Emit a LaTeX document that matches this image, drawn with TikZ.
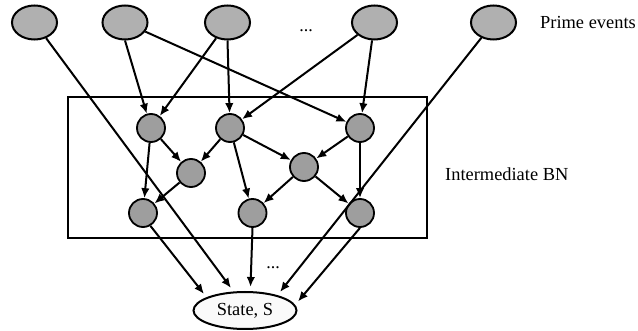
\documentclass[tikz,border=0pt]{standalone}
\usepackage{fontspec}
\setmainfont{Liberation Serif}
\usetikzlibrary{shapes.geometric,arrows.meta}
\definecolor{primefill}{RGB}{176,176,176}
\definecolor{bnfill}{RGB}{158,158,158}
\definecolor{statefill}{RGB}{250,250,250}
\tikzset{
  prime/.style={ellipse,draw,line width=2pt,fill=primefill,minimum width=45pt,minimum height=34pt,inner sep=0pt},
  bn/.style={circle,draw,line width=1.8pt,fill=bnfill,minimum size=28pt,inner sep=0pt},
  statenode/.style={ellipse,draw,line width=2pt,fill=statefill,minimum width=103pt,minimum height=37pt,inner sep=0pt},
  edge/.style={line width=2pt,-{Latex[length=10pt,width=8.5pt]}},
  lbl/.style={inner sep=0pt,anchor=base west,font=\fontsize{18.4}{20}\selectfont},
  dots/.style={inner sep=0pt,anchor=base,font=\fontsize{18}{20}\selectfont}
}
\begin{document}
\begin{tikzpicture}[x=1pt,y=-1pt]
\useasboundingbox (0,0) rectangle (638,331);
% frame of the intermediate BN
\draw[line width=2.2pt] (68,97) rectangle (427,238);
% prime events
\node[prime] (P1) at (34.5,22.5) {};
\node[prime] (P2) at (125,22.5) {};
\node[prime] (P3) at (227.5,22.5) {};
\node[prime] (P4) at (374.5,22.5) {};
\node[prime] (P5) at (493.5,22.5) {};
\node[dots] (d1) at (306,32) {...};
\node[lbl] (pe) at (540,29) {Prime events};
% intermediate BN nodes
\node[bn] (A1) at (151,128) {};
\node[bn] (A2) at (230,128) {};
\node[bn] (A3) at (360,128) {};
\node[bn] (B1) at (191,173) {};
\node[bn] (B2) at (304,167) {};
\node[bn] (C1) at (143,213) {};
\node[bn] (C2) at (252.5,213) {};
\node[bn] (C3) at (360,213) {};
\node[lbl] (ibn) at (445,180.5) {Intermediate BN};
% state
\node[statenode,font=\fontsize{18.4}{20}\selectfont] (S) at (245,310.5) {State, S};
\node[dots] (d2) at (273,269) {...};
\coordinate (s1) at (204,294);
\coordinate (s2) at (231,288);
\coordinate (s3) at (250.5,287);
\coordinate (s4) at (280,292);
\coordinate (s5) at (298,301.5);
% edges from prime events
\draw[edge] (P1) -- (s2);
\draw[edge] (P2.south) -- (A1);
\draw[edge] (P2) -- (A3);
\draw[edge] (P3) -- (A1);
\draw[edge] (P3.south) -- (A2);
\draw[edge] (P4) -- (A2);
\draw[edge] (P4) -- (A3);
\draw[edge] (P5) -- (s4);
% edges inside the BN
\draw[edge] (A1) -- (B1);
\draw[edge] (A1) -- (C1);
\draw[edge] (A2) -- (B1);
\draw[edge] (A2) -- (B2);
\draw[edge] (A2) -- (C2);
\draw[edge] (A3) -- (B2);
\draw[edge] (A3) -- (C3);
\draw[edge] (B1) -- (C1);
\draw[edge] (B2) -- (C2);
\draw[edge] (B2) -- (C3);
% edges to the state
\draw[edge] (C1.-60) -- (s1);
\draw[edge] (C2.south) -- (s3);
\draw[edge] (C3.south) -- (s5);
\end{tikzpicture}
\end{document}
